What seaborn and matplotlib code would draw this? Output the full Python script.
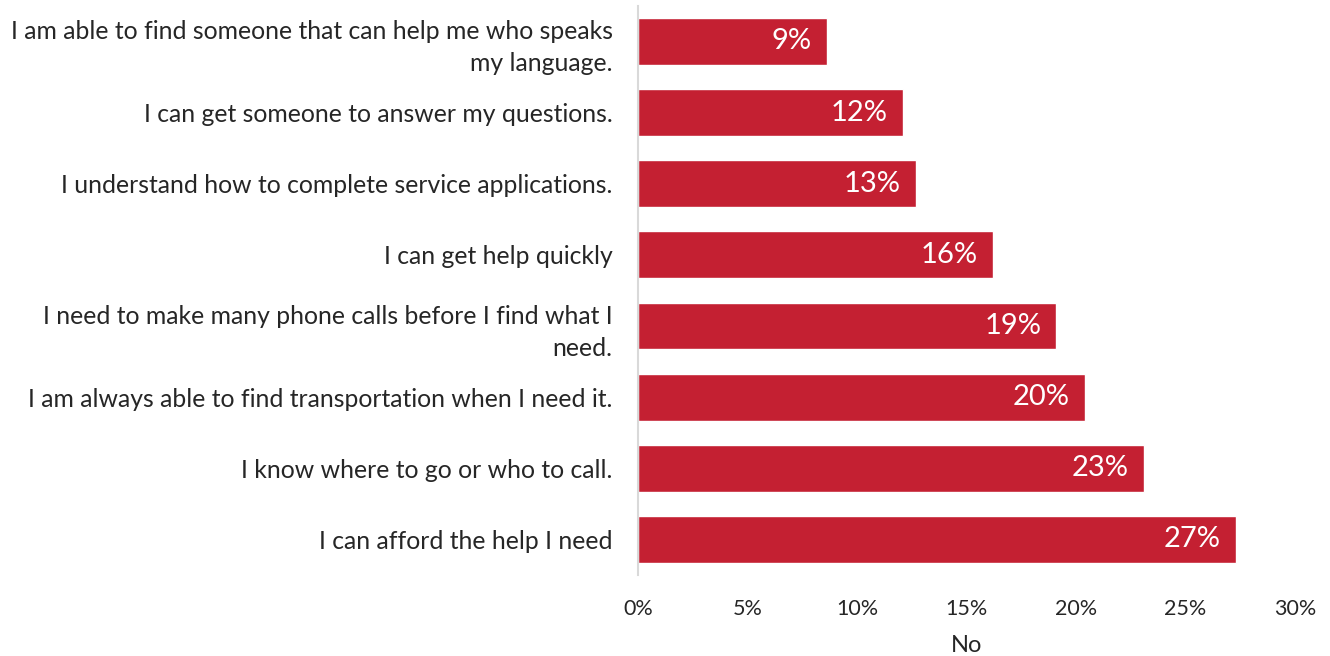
import matplotlib
matplotlib.use("Agg")
import matplotlib.pyplot as plt
import seaborn as sns
import pandas as pd

statements = [
    "I am able to find someone that can help me who speaks\nmy language.",
    "I can get someone to answer my questions.",
    "I understand how to complete service applications.",
    "I can get help quickly",
    "I need to make many phone calls before I find what I\nneed.",
    "I am always able to find transportation when I need it.",
    "I know where to go or who to call.",
    "I can afford the help I need",
]
no_pct = [8.6, 12.1, 12.7, 16.2, 19.1, 20.4, 23.1, 27.3]
x_ticks = [0, 5, 10, 15, 20, 25, 30]

df = pd.DataFrame({"statement": statements, "no": no_pct})

sns.set_theme(style="white")
plt.rcParams["font.family"] = ["Lato", "DejaVu Sans"]

fig = plt.figure(figsize=(13.3, 6.56), dpi=100)
ax = fig.add_axes([0.48, 0.1235, 0.4937, 0.8675])

bar_color = "#C42032"
sns.barplot(data=df, x="no", y="statement", color=bar_color, width=0.66,
            saturation=1, ax=ax, orient="h")

for patch, v in zip(ax.patches, no_pct):
    ax.annotate(f"{v:.0f}%", xy=(v, patch.get_y() + patch.get_height() / 2),
                xytext=(-11, 0), textcoords="offset points",
                ha="right", va="center", color="white", fontsize=21)

ax.set_xlim(0, 30)
ax.set_xticks(x_ticks)
ax.set_xticklabels([f"{t}%" for t in x_ticks], fontsize=15.5)
ax.set_xlabel("No", fontsize=17, labelpad=12)
ax.set_ylabel("")
ax.tick_params(axis="y", labelsize=17.8, length=0, pad=18.5)
ax.tick_params(axis="x", length=0, pad=17)
for lab in ax.get_yticklabels():
    lab.set_horizontalalignment("right")
    lab.set_multialignment("right")
    lab.set_linespacing(1.45)

for side in ["top", "right", "bottom"]:
    ax.spines[side].set_visible(False)
ax.spines["left"].set_color("#D9D9D9")
ax.spines["left"].set_linewidth(1.5)

fig.savefig("out.png", dpi=100, facecolor="white")
